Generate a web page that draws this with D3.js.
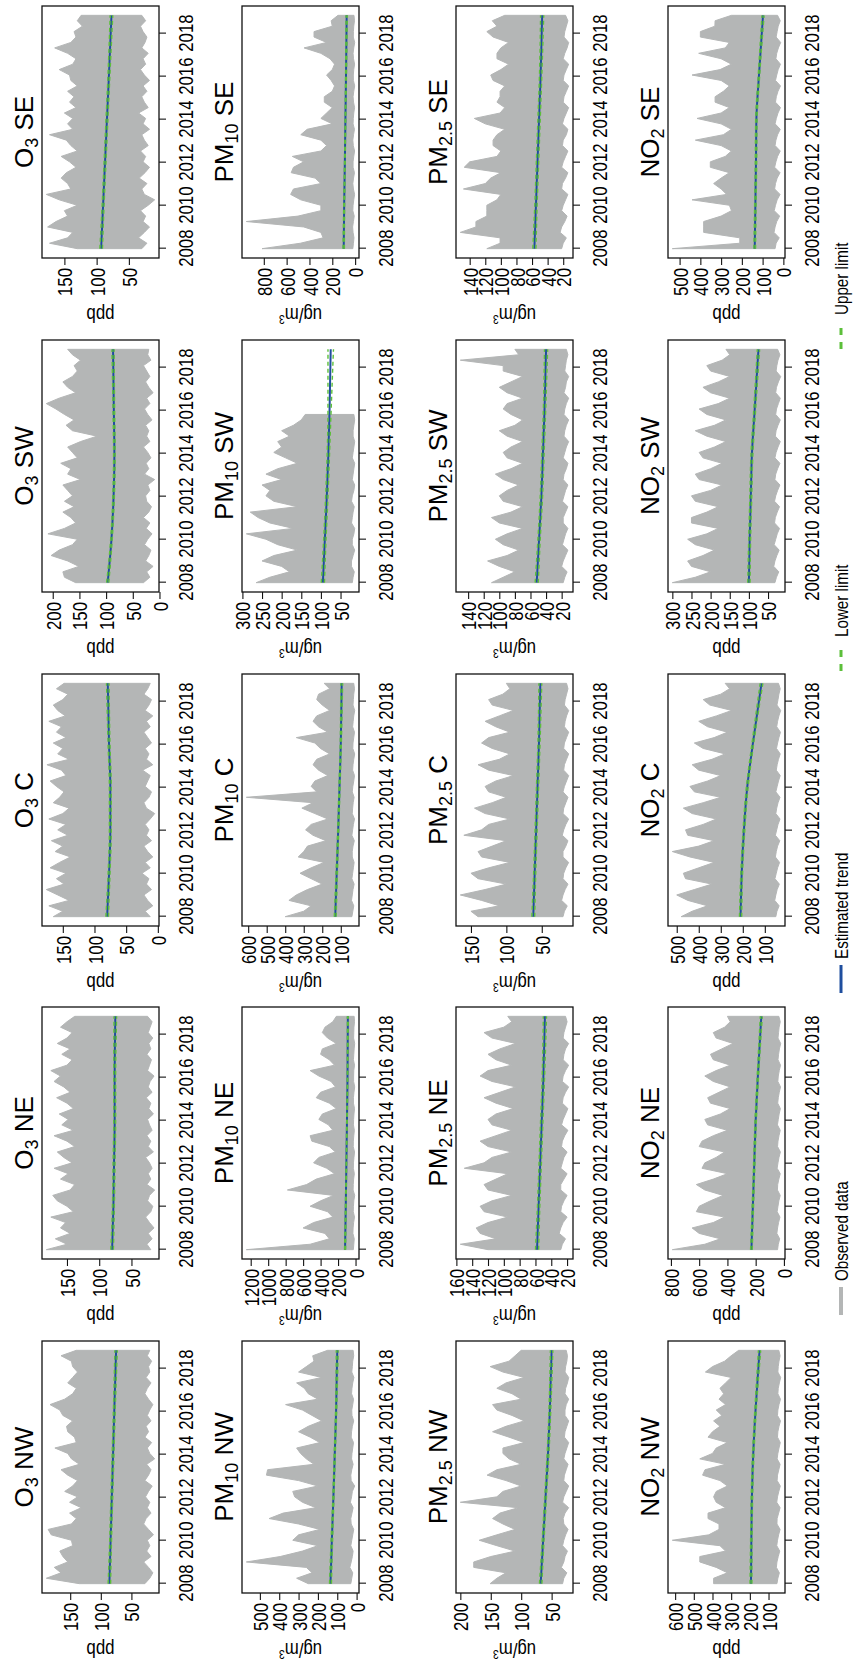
<!DOCTYPE html>
<html>
<head>
<meta charset="utf-8">
<script src="https://cdnjs.cloudflare.com/ajax/libs/d3/7.8.5/d3.min.js"></script>
<style>
  body { margin: 0; background: #fff; }
  svg text { font-family: "Liberation Sans", Arial, Helvetica, sans-serif; fill: #000; }
</style>
</head>
<body>
<div id="chart"></div>
<script>
// time axis
const startYear = 2008;
const endYear = 2018.85;
const yearTicks = [2008, 2010, 2012, 2014, 2016, 2018];
const trendYears = [2008, 2010, 2012, 2014, 2016, 2018.85];

// O3 (ppb) -- quarterly high / low envelope of the daily series
const o3NwHi = [135,189,165,176,154,162,167,146,148,181,186,148,140,151,132,151,138,159,146,138,154,165,135,148,154,175,140,143,154,156,146,162,167,183,159,146,140,154,146,138,146,148,165,140];
const o3NwLo = [28,20,15,22,30,18,25,20,24,14,22,30,26,18,24,20,27,22,16,28,22,18,25,12,20,24,17,28,22,26,18,24,20,15,22,28,24,18,26,20,22,17,24,20];
const o3NeHi = [182,150,168,145,160,152,175,140,150,165,172,145,138,160,148,170,142,155,165,138,150,170,140,158,148,162,140,150,166,145,155,170,160,175,150,142,158,145,165,150,142,160,150,138];
const o3NeLo = [20,26,18,24,15,22,28,20,17,25,22,14,26,20,24,18,22,28,16,24,20,26,18,22,25,16,23,20,27,18,24,21,15,25,22,19,26,20,23,17,24,21,18,25];
const o3CHi = [165,150,172,140,158,176,148,160,145,170,155,138,162,150,168,142,158,145,172,150,140,165,155,148,160,170,145,152,175,140,158,150,165,145,160,152,172,146,158,165,150,142,160,148];
const o3CLo = [12,20,8,16,22,10,18,14,25,12,20,8,16,22,10,18,14,20,12,5,18,22,14,10,20,16,12,24,8,18,14,20,10,16,22,12,18,8,20,14,10,22,16,12];
const o3SwHi = [157,178,181,151,172,203,188,163,154,209,178,157,166,181,160,178,163,172,181,148,172,166,185,154,163,172,148,117,163,175,160,178,194,212,188,157,172,181,163,154,160,148,163,172];
const o3SwLo = [30,18,24,12,26,20,16,28,22,14,25,18,30,20,15,24,26,18,22,9,28,20,25,16,22,30,18,24,20,26,14,22,28,18,24,12,20,26,18,24,30,16,22,20];
const o3SeHi = [130,173,145,137,176,163,145,150,130,158,178,140,145,155,147,132,142,155,130,140,147,173,137,145,137,150,132,142,135,145,130,140,142,158,137,132,145,165,140,132,135,122,130,124];
const o3SeLo = [30,22,35,26,18,28,24,32,20,10,26,30,22,34,25,18,28,24,32,20,26,30,18,28,24,35,20,26,30,22,28,18,26,32,24,28,20,30,25,22,28,32,24,30];

// PM10 (ug/m3)
const pm10NwHi = [250,310,230,260,570,395,280,200,330,300,190,300,452,380,210,280,320,330,200,300,466,460,220,260,290,310,190,240,300,250,180,230,280,367,200,250,270,310,180,300,260,220,227,150];
const pm10NwLo = [30,25,20,35,28,22,18,30,25,20,15,28,30,24,18,32,26,22,10,28,30,25,18,26,24,20,16,28,26,22,15,24,25,20,16,26,24,20,14,25,22,20,15,18];
const pm10NeHi = [1250,520,300,350,600,480,260,320,520,400,250,780,560,450,240,330,480,420,230,300,500,520,260,310,420,380,220,300,450,400,230,280,420,520,240,300,400,380,220,320,380,350,260,220];
const pm10NeLo = [25,20,15,30,28,22,12,26,24,20,10,28,26,22,14,25,24,18,12,26,25,20,14,24,22,18,12,24,24,18,10,22,22,20,12,24,20,16,10,22,20,18,12,16];
const pm10CHi = [400,300,260,380,340,280,200,260,320,260,190,330,300,280,180,250,290,260,170,240,310,250,610,230,260,240,170,220,250,230,160,210,240,340,170,220,250,230,160,200,230,220,160,190];
const pm10CLo = [40,35,30,42,38,34,28,40,36,32,28,38,38,34,27,40,36,32,26,38,36,33,28,38,35,30,26,36,34,30,25,35,34,30,26,36,33,30,25,34,32,30,26,30];
const pm10SwHi = [265,230,180,200,250,220,160,210,240,290,170,230,260,280,160,220,240,230,250,200,240,210,160,190,220,200,210,180,200,170,150,140,null,null,null,null,null,null,null,null,null,null,null,null];
const pm10SwLo = [20,18,15,22,22,18,14,20,20,16,14,22,20,18,15,22,20,16,14,20,18,16,14,20,18,16,14,18,18,16,14,16,null,null,null,null,null,null,null,null,null,null,null,null];
const pm10SeHi = [815,480,280,300,450,953,500,300,300,476,565,540,300,350,560,540,450,550,300,250,300,476,420,200,300,250,200,270,270,200,180,210,250,200,180,220,300,447,250,360,360,200,210,150];
const pm10SeLo = [20,15,10,18,22,15,8,20,18,12,5,15,20,14,6,18,18,12,5,16,20,14,6,18,16,12,5,14,18,12,4,15,16,12,5,14,18,12,4,16,15,12,6,10];

// PM2.5 (ug/m3)
const pm25NwHi = [151,140,125,178,178,150,110,140,169,140,110,130,147,135,105,200,140,130,100,125,156,140,100,120,130,130,95,120,147,125,95,115,140,147,100,115,140,125,95,130,151,120,110,100];
const pm25NwLo = [32,30,25,34,30,28,24,32,30,27,23,30,31,28,22,32,30,26,22,30,29,26,23,30,28,25,22,29,28,25,22,28,28,26,22,28,27,24,22,28,27,25,24,26];
const pm25NeHi = [120,155,110,130,135,120,95,125,130,115,90,120,125,110,95,150,125,115,90,120,130,110,90,115,120,110,88,110,125,105,85,115,130,120,90,110,120,105,85,115,125,100,90,95];
const pm25NeLo = [28,26,22,30,28,25,20,28,27,24,20,28,28,24,20,28,26,24,20,27,26,23,19,27,25,22,19,26,25,22,18,26,25,22,18,25,24,22,18,25,24,22,20,22];
const pm25CHi = [140,150,110,135,165,130,100,140,150,125,95,135,140,120,100,160,135,125,95,130,145,120,100,125,130,115,90,125,140,110,95,120,135,125,95,115,130,110,90,120,125,105,95,100];
const pm25CLo = [20,18,14,22,20,17,13,20,19,16,12,20,20,16,13,21,19,16,12,20,19,16,13,20,18,15,12,19,18,15,12,19,18,15,12,18,17,15,12,18,17,15,13,15];
const pm25SwHi = [110,95,80,100,115,90,75,95,105,90,70,100,110,85,70,95,100,90,75,95,105,85,70,90,95,85,70,90,100,80,70,85,95,90,70,90,100,85,70,95,95,150,75,80];
const pm25SwLo = [18,16,13,20,18,15,12,19,17,15,12,18,18,15,12,19,17,15,12,18,17,14,12,18,16,14,11,17,16,14,11,17,16,14,11,17,15,14,11,16,15,14,12,14];
const pm25SeHi = [118,101,101,152,132,132,118,118,118,105,100,148,120,113,100,147,140,105,100,110,110,105,95,120,134,101,95,105,101,101,95,110,113,100,90,105,105,100,90,110,118,105,111,95];
const pm25SeLo = [22,20,16,24,22,18,15,22,20,17,14,22,21,17,14,22,20,17,14,21,20,16,14,21,19,16,13,20,19,16,13,20,19,16,13,20,18,15,13,19,18,16,14,17];

// NO2 (ppb)
const no2NwHi = [394,394,320,380,468,468,330,360,615,420,365,365,424,424,330,380,394,380,320,360,453,440,330,468,400,380,320,424,400,360,394,350,380,330,365,340,360,330,300,438,400,335,300,260];
const no2NwLo = [55,50,42,58,55,48,40,56,52,46,38,55,54,46,38,56,52,45,37,54,52,45,38,54,50,44,37,52,50,44,36,52,50,44,36,50,48,42,35,50,48,44,38,45];
const no2NeHi = [790,560,450,600,650,500,420,620,600,520,430,560,620,500,400,580,560,480,420,600,580,500,400,540,560,450,380,520,540,460,380,500,560,480,380,500,520,440,360,480,500,420,380,400];
const no2NeLo = [45,40,30,50,45,38,28,48,42,36,26,46,44,36,26,48,42,35,25,45,42,35,26,46,40,34,25,44,40,33,24,43,40,33,24,42,38,32,23,42,38,34,26,36];
const no2CHi = [480,430,360,450,500,420,340,460,470,400,330,440,520,400,330,450,460,380,320,430,470,380,300,420,440,360,300,400,430,340,280,380,420,330,270,360,400,320,250,350,380,300,260,280];
const no2CLo = [50,45,35,55,50,44,34,54,48,42,33,52,48,42,32,52,46,40,31,50,46,40,31,50,44,38,30,48,44,38,30,47,42,36,29,46,42,36,28,45,40,36,30,38];
const no2SwHi = [300,240,200,250,260,220,190,240,260,210,180,250,250,210,180,240,250,200,170,230,240,200,170,220,230,190,160,210,240,190,160,210,230,180,150,200,220,180,150,200,210,170,150,160];
const no2SwLo = [32,28,22,35,32,27,21,34,30,26,20,33,31,26,20,33,30,25,19,32,30,25,19,32,29,24,18,31,29,24,18,30,28,23,18,30,28,23,17,29,27,24,19,25];
const no2SeHi = [535,210,210,384,384,384,300,250,260,440,273,300,336,300,260,352,352,280,250,300,424,289,250,300,416,300,260,329,329,289,260,300,440,305,250,300,408,280,260,400,400,330,329,250];
const no2SeLo = [40,35,20,45,40,32,18,44,38,30,16,42,38,30,16,42,36,28,15,40,36,28,15,40,34,26,14,38,34,26,14,38,32,25,14,36,32,24,13,35,30,25,15,28];

// estimated trend with lower / upper limits, at trendYears
const o3NwEst = [86,84,82,80,78,75];       const o3NwLwr = [84,82.5,80.5,78.5,76.5,73];   const o3NwUpr = [88,85.5,83.5,81.5,79.5,77];
const o3NeEst = [80,78,77,76,76,75];       const o3NeLwr = [78,76.5,75.5,74.5,74.5,73];   const o3NeUpr = [82,79.5,78.5,77.5,77.5,77];
const o3CEst = [80,77,75,75,77,79];        const o3CLwr = [78,75.5,73.5,73.5,75.5,77];    const o3CUpr = [82,78.5,76.5,76.5,78.5,81];
const o3SwEst = [97,90,86,84.5,85.5,87];   const o3SwLwr = [95,88.5,84.5,83,84,85];       const o3SwUpr = [99,91.5,87.5,86,87,89];
const o3SeEst = [93,90,87,84,81,77];       const o3SeLwr = [91,88.5,85.5,82.5,79.5,75];   const o3SeUpr = [95,91.5,88.5,85.5,82.5,79];

const pm10NwEst = [135,128,120,113,106,100]; const pm10NwLwr = [130,124,117,110,103,95]; const pm10NwUpr = [140,132,123,116,109,105];
const pm10NeEst = [120,112,105,98,92,88];    const pm10NeLwr = [114,108,102,95,89,83];   const pm10NeUpr = [126,116,108,101,95,93];
const pm10CEst = [130,122,114,107,100,95];   const pm10CLwr = [125,118,111,104,97,90];   const pm10CUpr = [135,126,117,110,103,100];
const pm10SwEst = [95,90,85,81,78,75];       const pm10SwLwr = [91,87,82,78,74,68];      const pm10SwUpr = [99,93,88,84,82,82];
const pm10SeEst = [100,96,90,85,80,74];      const pm10SeLwr = [94,92,87,82,76,68];      const pm10SeUpr = [106,100,93,88,84,80];

const pm25NwEst = [68,64,60,56,53,50];  const pm25NwLwr = [66,62.5,58.5,54.5,51.5,48]; const pm25NwUpr = [70,65.5,61.5,57.5,54.5,52];
const pm25NeEst = [58,56,54,52,50,48];  const pm25NeLwr = [56,54.5,52.5,50.5,48.5,46]; const pm25NeUpr = [60,57.5,55.5,53.5,51.5,50];
const pm25CEst = [62,60,58,56,54,52];   const pm25CLwr = [60,58.5,56.5,54.5,52.5,50];  const pm25CUpr = [64,61.5,59.5,57.5,55.5,54];
const pm25SwEst = [52,49,46,44,42,40];  const pm25SwLwr = [50,47.5,44.5,42.5,40.5,38]; const pm25SwUpr = [54,50.5,47.5,45.5,43.5,42];
const pm25SeEst = [57,55,53,51,49,47];  const pm25SeLwr = [55,53.5,51.5,49.5,47.5,45]; const pm25SeUpr = [59,56.5,54.5,52.5,50.5,49];

const no2NwEst = [194,192,189,182,170,148]; const no2NwLwr = [189,188,185,178,166,142]; const no2NwUpr = [199,196,193,186,174,154];
const no2NeEst = [230,220,210,200,185,160]; const no2NeLwr = [224,215,205,195,180,153]; const no2NeUpr = [236,225,215,205,190,167];
const no2CEst = [210,205,195,180,155,115];  const no2CLwr = [205,201,191,176,151,109];  const no2CUpr = [215,209,199,184,159,121];
const no2SwEst = [100,98,95,92,85,75];      const no2SwLwr = [97,95.5,92.5,89.5,82.5,72]; const no2SwUpr = [103,100.5,97.5,94.5,87.5,78];
const no2SeEst = [138,135,132,130,118,98];  const no2SeLwr = [134,131.5,128.5,126.5,114.5,93]; const no2SeUpr = [142,138.5,135.5,133.5,121.5,103];

// y axis tick labels per panel
const o3NwTicks = [50,100,150];
const o3NeTicks = [50,100,150];
const o3CTicks = [0,50,100,150];
const o3SwTicks = [0,50,100,150,200];
const o3SeTicks = [50,100,150];
const pm10NwTicks = [0,100,200,300,400,500];
const pm10NeTicks = [0,200,400,600,800,1000,1200];
const pm10CTicks = [100,200,300,400,500,600];
const pm10SwTicks = [50,100,150,200,250,300];
const pm10SeTicks = [0,200,400,600,800];
const pm25NwTicks = [50,100,150,200];
const pm25NeTicks = [20,40,60,80,100,120,140,160];
const pm25CTicks = [50,100,150];
const pm25SwTicks = [20,40,60,80,100,120,140];
const pm25SeTicks = [20,40,60,80,100,120,140];
const no2NwTicks = [100,200,300,400,500,600];
const no2NeTicks = [0,200,400,600,800];
const no2CTicks = [100,200,300,400,500];
const no2SwTicks = [50,100,150,200,250,300];
const no2SeTicks = [0,100,200,300,400,500];

const regions = ['NW', 'NE', 'C', 'SW', 'SE'];
const pollutants = [
  { key: 'o3',   base: 'O',  sub: '3',   unit: 'ppb' },
  { key: 'pm10', base: 'PM', sub: '10',  unit: 'ug/m3' },
  { key: 'pm25', base: 'PM', sub: '2.5', unit: 'ug/m3' },
  { key: 'no2',  base: 'NO', sub: '2',   unit: 'ppb' }
];
const legendItems = ['Observed data', 'Estimated trend', 'Lower limit', 'Upper limit'];

// lookup table built from the arrays above
const table = {
  o3NW: [o3NwHi, o3NwLo, o3NwEst, o3NwLwr, o3NwUpr, o3NwTicks],
  o3NE: [o3NeHi, o3NeLo, o3NeEst, o3NeLwr, o3NeUpr, o3NeTicks],
  o3C:  [o3CHi, o3CLo, o3CEst, o3CLwr, o3CUpr, o3CTicks],
  o3SW: [o3SwHi, o3SwLo, o3SwEst, o3SwLwr, o3SwUpr, o3SwTicks],
  o3SE: [o3SeHi, o3SeLo, o3SeEst, o3SeLwr, o3SeUpr, o3SeTicks],
  pm10NW: [pm10NwHi, pm10NwLo, pm10NwEst, pm10NwLwr, pm10NwUpr, pm10NwTicks],
  pm10NE: [pm10NeHi, pm10NeLo, pm10NeEst, pm10NeLwr, pm10NeUpr, pm10NeTicks],
  pm10C:  [pm10CHi, pm10CLo, pm10CEst, pm10CLwr, pm10CUpr, pm10CTicks],
  pm10SW: [pm10SwHi, pm10SwLo, pm10SwEst, pm10SwLwr, pm10SwUpr, pm10SwTicks],
  pm10SE: [pm10SeHi, pm10SeLo, pm10SeEst, pm10SeLwr, pm10SeUpr, pm10SeTicks],
  pm25NW: [pm25NwHi, pm25NwLo, pm25NwEst, pm25NwLwr, pm25NwUpr, pm25NwTicks],
  pm25NE: [pm25NeHi, pm25NeLo, pm25NeEst, pm25NeLwr, pm25NeUpr, pm25NeTicks],
  pm25C:  [pm25CHi, pm25CLo, pm25CEst, pm25CLwr, pm25CUpr, pm25CTicks],
  pm25SW: [pm25SwHi, pm25SwLo, pm25SwEst, pm25SwLwr, pm25SwUpr, pm25SwTicks],
  pm25SE: [pm25SeHi, pm25SeLo, pm25SeEst, pm25SeLwr, pm25SeUpr, pm25SeTicks],
  no2NW: [no2NwHi, no2NwLo, no2NwEst, no2NwLwr, no2NwUpr, no2NwTicks],
  no2NE: [no2NeHi, no2NeLo, no2NeEst, no2NeLwr, no2NeUpr, no2NeTicks],
  no2C:  [no2CHi, no2CLo, no2CEst, no2CLwr, no2CUpr, no2CTicks],
  no2SW: [no2SwHi, no2SwLo, no2SwEst, no2SwLwr, no2SwUpr, no2SwTicks],
  no2SE: [no2SeHi, no2SeLo, no2SeEst, no2SeLwr, no2SeUpr, no2SeTicks]
};

// ---- layout (figure drawn landscape, then turned a quarter turn) ----
const figW = 1663, figH = 854;
const colX = [70, 404, 737, 1071, 1405];
const rowY = [42, 242, 456, 668];
const pw = 252, ph = 117;
const squeeze = 0.8;

const grey = '#b4b6b6', blue = '#1f4e9e', green = '#5cbf3a';

const $svg = d3.select('#chart').append('svg')
  .attr('width', figH)
  .attr('height', figW);

const $fig = $svg.append('g')
  .attr('transform', `translate(0, ${figW}) rotate(-90)`);

const x = d3.scaleLinear()
  .domain([startYear - 0.04 * (endYear - startYear), endYear + 0.04 * (endYear - startYear)])
  .range([0, pw]);

function drawPanel(pol, ri, region, ci) {
  const [hi, lo, est, lwr, upr, ticks] = table[pol.key + region];
  const n = hi.length;
  const pts = hi.map((h, i) => ({
    t: startYear + i * (endYear - startYear) / (n - 1),
    hi: h,
    lo: lo[i]
  }));

  const vals = hi.concat(lo).filter(v => v != null);
  const [vmin, vmax] = d3.extent(vals);
  const pad = (vmax - vmin) * 0.04;
  const y = d3.scaleLinear().domain([vmin - pad, vmax + pad]).range([ph, 0]);

  const $p = $fig.append('g')
    .attr('transform', `translate(${colX[ci]}, ${rowY[ri]})`);

  // observed data
  $p.append('path')
    .datum(pts)
    .attr('d', d3.area()
      .defined(d => d.hi != null)
      .x(d => x(d.t))
      .y0(d => y(d.lo))
      .y1(d => y(d.hi)))
    .attr('fill', grey)
    .attr('stroke', grey)
    .attr('stroke-width', 1);

  // trend and limits
  const line = vs => d3.line()
    .x((v, i) => x(trendYears[i]))
    .y(v => y(v))
    .curve(d3.curveMonotoneX)(vs);

  $p.append('path').attr('d', line(est))
    .attr('fill', 'none').attr('stroke', blue).attr('stroke-width', 2);
  [lwr, upr].forEach(vs => {
    $p.append('path').attr('d', line(vs))
      .attr('fill', 'none').attr('stroke', green)
      .attr('stroke-width', 1.4).attr('stroke-dasharray', '4,3');
  });

  // frame
  $p.append('rect')
    .attr('width', pw).attr('height', ph)
    .attr('fill', 'none').attr('stroke', '#111').attr('stroke-width', 1.3);

  // axes
  const $xa = $p.append('g')
    .attr('transform', `translate(0, ${ph})`)
    .call(d3.axisBottom(x).tickValues(yearTicks).tickFormat(d3.format('d')).tickSize(7).tickPadding(12));
  const $ya = $p.append('g')
    .call(d3.axisLeft(y).tickValues(ticks).tickFormat(d3.format('d')).tickSize(7));

  [$xa, $ya].forEach($a => {
    $a.select('.domain').remove();
    $a.attr('font-size', 21).attr('font-family', null);
    $a.selectAll('line').attr('stroke', '#111').attr('stroke-width', 1.1);
  });
  $xa.selectAll('text').attr('transform', `scale(${squeeze},1)`);
  $ya.selectAll('text')
    .attr('x', -10 / squeeze)
    .attr('dy', '0.36em')
    .attr('transform', `scale(${squeeze},1)`);

  // title
  const $title = $p.append('text')
    .attr('x', pw / 2)
    .attr('y', -9)
    .attr('text-anchor', 'middle')
    .attr('font-size', 26);
  $title.append('tspan').text(pol.base);
  $title.append('tspan').attr('font-size', 18).attr('dy', 5).text(pol.sub);
  $title.append('tspan').attr('dy', -5).text(' ' + region);

  // y label
  const $yl = $p.append('text')
    .attr('transform', `translate(-50, ${ph / 2}) rotate(-90) scale(${squeeze},1)`)
    .attr('text-anchor', 'middle')
    .attr('font-size', 21);
  if (pol.unit === 'ppb') {
    $yl.text('ppb');
  } else {
    $yl.append('tspan').text('ug/m');
    $yl.append('tspan').attr('font-size', 13).attr('dy', -7).text('3');
  }
}

pollutants.forEach((pol, ri) => {
  regions.forEach((region, ci) => drawPanel(pol, ri, region, ci));
});

// legend along the bottom edge of the landscape figure
const legendStyle = [
  { color: grey,  width: 4,   dash: null },
  { color: blue,  width: 3,   dash: null },
  { color: green, width: 3,   dash: '7,7' },
  { color: green, width: 3,   dash: '7,7' }
];
const segLen = 28, segGap = 6, legendY = 841, legendX0 = 348, slot = 322;
legendItems.forEach((label, i) => {
  const $g = $fig.append('g')
    .attr('transform', `translate(${legendX0 + i * slot}, 0)`);
  $g.append('line')
    .attr('x1', 0).attr('x2', segLen)
    .attr('y1', legendY).attr('y2', legendY)
    .attr('stroke', legendStyle[i].color)
    .attr('stroke-width', legendStyle[i].width)
    .attr('stroke-dasharray', legendStyle[i].dash);
  $g.append('text')
    .attr('x', (segLen + segGap) / squeeze)
    .attr('y', legendY)
    .attr('dy', '0.36em')
    .attr('font-size', 19)
    .attr('transform', `scale(${squeeze},1)`)
    .text(label);
});
</script>
</body>
</html>
